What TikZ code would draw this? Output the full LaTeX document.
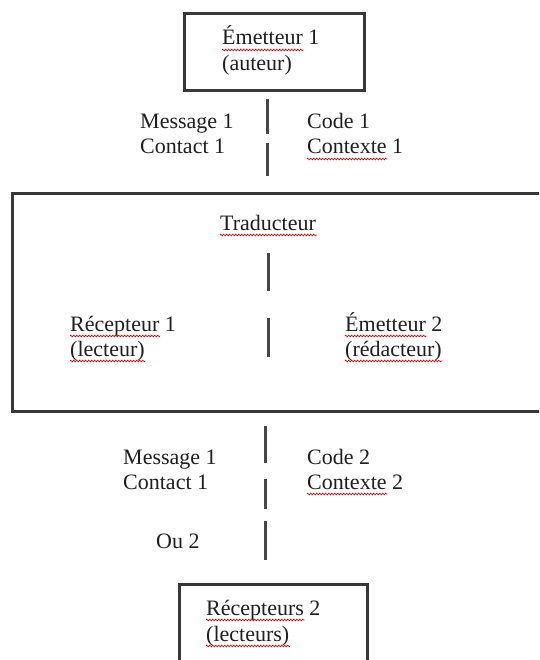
\documentclass[tikz,border=0pt]{standalone}
\usepackage{fontspec}
\setmainfont{Liberation Serif}
\usetikzlibrary{decorations.pathmorphing}
\newlength\sqw
\newcommand\sqm[1]{\setbox0\hbox{#1}\global\sqw=\wd0\relax\box0\relax}
\newcommand\squigunder[1]{\draw[squig] ([yshift=-5pt]#1.base west) -- ++(\sqw+1pt,0pt);}
\begin{document}
\begin{tikzpicture}[x=1pt,y=-1pt,
  txt/.style={anchor=base west,inner sep=0pt,font=\fontsize{22}{26}\selectfont,text=black!88},
  frame/.style={draw=black!78,line width=2.6pt,anchor=north west,inner sep=0pt},
  bar/.style={draw=black!72,line width=3pt},
  squig/.style={draw=red!90!black,line width=0.6pt,decorate,decoration={zigzag,segment length=3pt,amplitude=0.9pt}}]
\useasboundingbox (0,0) rectangle (539,660);
\clip (0,0) rectangle (539,660);
\fill[white] (0,0) rectangle (539,660);

% boxes
\node[frame,minimum width=180pt,minimum height=77pt] (topbox) at (183,12) {};
\node[frame,minimum width=549pt,minimum height=218pt] (bigbox) at (11,192) {};
\node[frame,minimum width=188pt,minimum height=117pt] (botbox) at (178,583) {};

% texts (with spell-check underlines)
\node[txt] (em1) at (222,45) {\sqm{Émetteur} 1}; \squigunder{em1}
\node[txt] (aut) at (222,71) {(auteur)};
\node[txt] (msg1) at (140,129) {Message 1};
\node[txt] (con1) at (140,154) {Contact 1};
\node[txt] (cod1) at (307,129) {Code 1};
\node[txt] (ctx1) at (307,154) {\sqm{Contexte} 1}; \squigunder{ctx1}
\node[txt] (trad) at (220,230) {\sqm{Traducteur}}; \squigunder{trad}
\node[txt] (rec1) at (70,331) {\sqm{Récepteur} 1}; \squigunder{rec1}
\node[txt] (lec) at (70,356) {\sqm{(lecteur)}}; \squigunder{lec}
\node[txt] (em2) at (345,331) {\sqm{Émetteur} 2}; \squigunder{em2}
\node[txt] (red) at (345,356) {\sqm{(rédacteur)}}; \squigunder{red}
\node[txt] (msg2) at (123,464) {Message 1};
\node[txt] (con2) at (123,489) {Contact 1};
\node[txt] (cod2) at (307,464) {Code 2};
\node[txt] (ctx2) at (307,489) {\sqm{Contexte} 2}; \squigunder{ctx2}
\node[txt] (ou) at (156,548) {Ou 2};
\node[txt] (rec2) at (206,615) {\sqm{Récepteurs} 2}; \squigunder{rec2}
\node[txt] (lecs) at (206,641) {\sqm{(lecteurs)}}; \squigunder{lecs}

% dashed separators
\coordinate (a1) at (267,99);  \coordinate (a2) at (267,134);
\coordinate (a3) at (267,143); \coordinate (a4) at (267,176);
\coordinate (b1) at (268,253); \coordinate (b2) at (268,291);
\coordinate (b3) at (268,318); \coordinate (b4) at (268,357);
\coordinate (c1) at (265,426); \coordinate (c2) at (265,463);
\coordinate (c3) at (265,479); \coordinate (c4) at (265,509);
\coordinate (c5) at (265,521); \coordinate (c6) at (265,560);
\draw[bar] (a1) -- (a2);
\draw[bar] (a3) -- (a4);
\draw[bar] (b1) -- (b2);
\draw[bar] (b3) -- (b4);
\draw[bar] (c1) -- (c2);
\draw[bar] (c3) -- (c4);
\draw[bar] (c5) -- (c6);
\end{tikzpicture}
\end{document}
